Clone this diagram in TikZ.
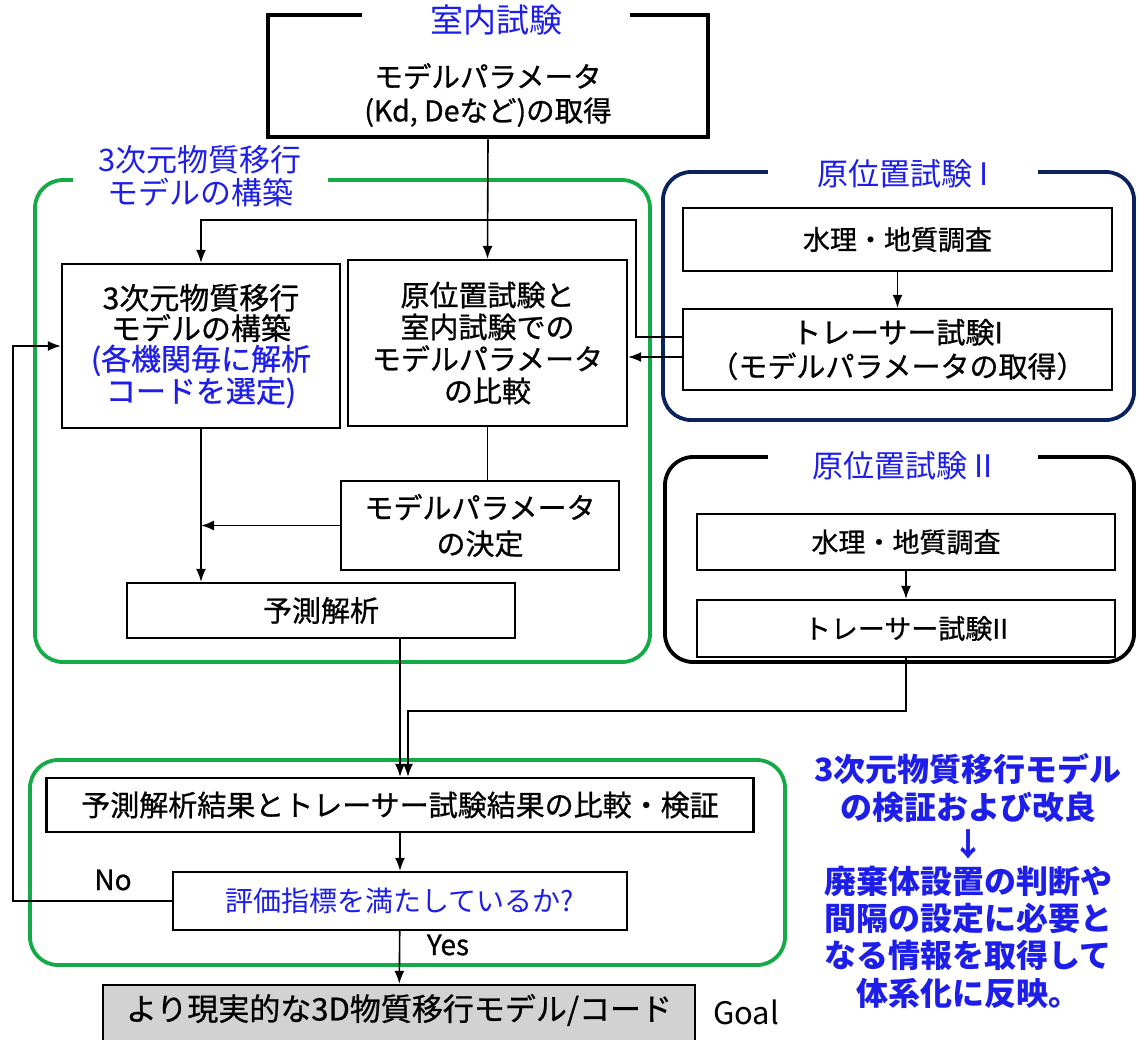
\documentclass[tikz,border=0pt]{standalone}
\usepackage{fontspec}
\setmainfont{Noto Sans CJK JP}
\newfontfamily\jpmed{Noto Sans CJK JP}[FakeBold=0.8]
\usetikzlibrary{arrows.meta,calc}
\definecolor{jblue}{RGB}{30,30,235}
\definecolor{jgreen}{RGB}{20,170,70}
\definecolor{jnavy}{RGB}{10,35,95}
\definecolor{jgray}{RGB}{210,210,210}
\tikzset{
  box/.style={draw=black, line width=2.2pt, inner sep=0pt, align=center, fill=white,
    font=\jpmed\fontsize{29}{32}\selectfont},
  grp/.style={line width=3.8pt, rounded corners=28pt},
  ttl/.style={fill=white, inner sep=0pt, text=jblue, align=center,
    font=\fontsize{31}{33}\selectfont},
  arr/.style={line width=1.6pt, -{Latex[length=13pt,width=10pt]}},
  ln/.style={line width=1.6pt},
  lbl/.style={inner sep=0pt, font=\jpmed\fontsize{28}{30}\selectfont}
}
\begin{document}
\begin{tikzpicture}[x=1pt,y=-1pt]
\useasboundingbox (0,0) rectangle (1138,1039);

% group containers
\draw[grp, draw=jgreen] (35,180) rectangle (650,662);
\draw[grp, draw=jnavy] (663,172) rectangle (1134,420);
\draw[grp, draw=black] (665,457) rectangle (1134,662);
\draw[grp, draw=jgreen] (30,760) rectangle (785,965);

% top box
\node[box, line width=4.5pt, minimum width=440pt, minimum height=122pt] (top) at (488,76) {};
\node[lbl, align=center, font=\jpmed\fontsize{28.5}{34}\selectfont] (toptxt) at (488,95) {モデルパラメータ\\(Kd, Deなど)の取得};
\node[ttl, minimum width=268pt, minimum height=40pt, font=\fontsize{33}{35}\selectfont] (ttop) at (496,20) {室内試験};

% titles of groups
\node[ttl, minimum width=255pt, minimum height=66pt] (tmodel) at (200,176) {3次元物質移行\\モデルの構築};
\node[ttl, minimum width=270pt, minimum height=40pt] (tI) at (903,174) {原位置試験 I};
\node[ttl, minimum width=270pt, minimum height=40pt] (tII) at (903,466) {原位置試験 II};

% inner boxes
\node[box, minimum width=278pt, minimum height=164pt, font=\jpmed\fontsize{30}{30.5}\selectfont] (A) at (201,346)
  {3次元物質移行\\モデルの構築\\\textcolor{jblue}{(各機関毎に解析}\\\textcolor{jblue}{コードを選定)}};
\node[box, minimum width=279pt, minimum height=166pt] (B) at (487.5,343)
  {原位置試験と\\室内試験での\\モデルパラメータ\\の比較};
\node[box, minimum width=278pt, minimum height=89pt, font=\jpmed\fontsize{29}{36}\selectfont] (C) at (480,525.5)
  {モデルパラメータ\\の決定};
\node[box, minimum width=388pt, minimum height=55pt] (D) at (321,610.5) {予測解析};
\node[box, minimum width=429pt, minimum height=63pt, font=\jpmed\fontsize{27}{32}\selectfont] (E) at (897.5,239.5) {水理・地質調査};
\node[box, minimum width=429pt, minimum height=81pt, font=\jpmed\fontsize{29}{34}\selectfont] (F) at (897.5,349.5)
  {トレーサー試験I\\（モデルパラメータの取得）};
\node[box, minimum width=418pt, minimum height=56pt, font=\jpmed\fontsize{27}{32}\selectfont] (G) at (906,542) {水理・地質調査};
\node[box, minimum width=418pt, minimum height=57pt, font=\jpmed\fontsize{27}{32}\selectfont] (H) at (906,628.5) {トレーサー試験II};
\node[box, minimum width=707pt, minimum height=54pt] (I) at (400,805)
  {予測解析結果とトレーサー試験結果の比較・検証};
\node[box, minimum width=454pt, minimum height=58pt, text=jblue, font=\fontsize{28}{32}\selectfont] (J) at (400,901)
  {評価指標を満たしているか?};
\node[box, fill=jgray, minimum width=592pt, minimum height=60pt] (goal) at (399,1015) {};
\node[lbl, font=\jpmed\fontsize{31}{33}\selectfont] (goaltxt) at (399,1010) {より現実的な3D物質移行モデル/コード};
\node[lbl, anchor=west, font=\fontsize{31}{33}\selectfont] (goallbl) at (713,1012) {Goal};

% labels
\node[lbl] (no) at (113,880) {No};
\node[lbl] (yes) at (448,945) {Yes};

% right blue text
\node[lbl, text=jblue, align=center, font=\bfseries\fontsize{32}{37.2}\selectfont] (note) at (968,881)
  {3次元物質移行モデル\\の検証および改良\\↓\\廃棄体設置の判断や\\間隔の設定に必要と\\なる情報を取得して\\体系化に反映。};

% connectors
\coordinate (fr) at (636,220);
\coordinate (nl) at (13,0);
\draw[arr] (top.south) -- (B.north);
\draw[arr] ([yshift=12.5pt]F.west) -- ([yshift=12.5pt]F.west -| fr) -- (fr) -| (A.north);
\draw[arr] ([yshift=-7.5pt]F.west) -- ([yshift=-7.5pt]F.west -| B.east);
\draw[arr] (E) -- (F);
\draw[arr] (G) -- (H);
\draw[ln] (B.south) -- (B.south |- C.north);
\draw[arr] (C.west) -- (C.west -| A.south);
\draw[arr] (A.south) -- (A.south |- D.north);
\draw[arr] (D.south -| I.north) -- (I.north);
\draw[arr] (H.south) -- ++(0,53) -| ([xshift=8pt]I.north);
\draw[arr] (I) -- (J);
\draw[arr] (J.west) -- (J.west -| nl) |- (A.west);
\draw[arr] (J) -- (goal);
\end{tikzpicture}
\end{document}
